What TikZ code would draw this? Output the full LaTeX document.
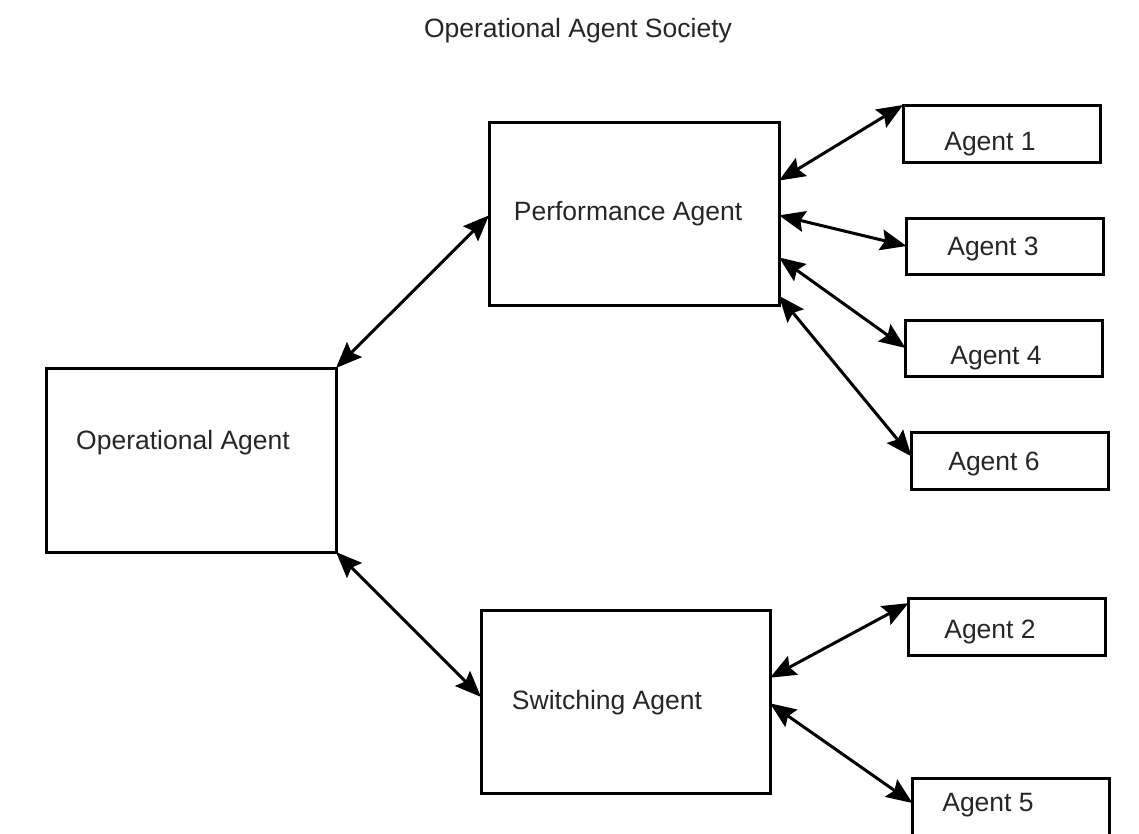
\documentclass[tikz,border=0pt]{standalone}
\usepackage{fontspec}
\setmainfont{Liberation Sans}
\usetikzlibrary{arrows.meta,calc}
\begin{document}
\begin{tikzpicture}[x=1pt,y=-1pt,
  >={Stealth[length=26pt,width=21pt,inset=4pt]},
  box/.style={draw=black,line width=3pt,inner sep=0pt,outer sep=0pt},
  lbl/.style={inner sep=0pt,text=black!85,font=\fontsize{26.5}{30}\selectfont},
  link/.style={line width=3pt,<->}]
\useasboundingbox (0,0) rectangle (1139,833);
\fill[white] (0,0) rectangle (1139,833);
% title
\node[lbl] (title) at (578,31) {Operational Agent Society};
% main boxes
\node[box,minimum width=290pt,minimum height=184pt] (op) at (191,460) {};
\node[lbl] (opT) at (183,443) {Operational Agent};
\node[box,minimum width=290pt,minimum height=183pt] (perf) at (634,213.5) {};
\node[lbl] (perfT) at (628,214) {Performance Agent};
\node[box,minimum width=289pt,minimum height=183pt] (sw) at (625.5,701.5) {};
\node[lbl] (swT) at (607,703) {Switching Agent};
% agent boxes
\node[box,minimum width=197pt,minimum height=57pt] (a1) at (1001.5,133.5) {};
\node[lbl] (a1T) at (990,144) {Agent 1};
\node[box,minimum width=197pt,minimum height=56pt] (a3) at (1005,246) {};
\node[lbl] (a3T) at (993,249) {Agent 3};
\node[box,minimum width=197pt,minimum height=56pt] (a4) at (1004,348) {};
\node[lbl] (a4T) at (996,358) {Agent 4};
\node[box,minimum width=197pt,minimum height=57pt] (a6) at (1010,461) {};
\node[lbl] (a6T) at (994,464) {Agent 6};
\node[box,minimum width=197pt,minimum height=57pt] (a2) at (1007,626.5) {};
\node[lbl] (a2T) at (990,632) {Agent 2};
\node[box,minimum width=197pt,minimum height=57pt] (a5) at (1011,806.5) {};
\node[lbl] (a5T) at (988,805) {Agent 5};
% connectors
\draw[link] (op.north east) -- ($(perf.north west)!0.51!(perf.south west)$);
\draw[link] (op.south east) -- ($(sw.north west)!0.475!(sw.south west)$);
\draw[link] ($(perf.north east)!0.32!(perf.south east)$) -- (a1.north west);
\draw[link] ($(perf.north east)!0.51!(perf.south east)$) -- (a3.west);
\draw[link] ($(perf.north east)!0.74!(perf.south east)$) -- (a4.west);
\draw[link] ($(perf.north east)!0.95!(perf.south east)$) -- ($(a6.north west)!0.42!(a6.south west)$);
\draw[link] ($(sw.north east)!0.37!(sw.south east)$) -- ($(a2.north west)!0.09!(a2.south west)$);
\draw[link] ($(sw.north east)!0.51!(sw.south east)$) -- ($(a5.north west)!0.44!(a5.south west)$);
\end{tikzpicture}
\end{document}
